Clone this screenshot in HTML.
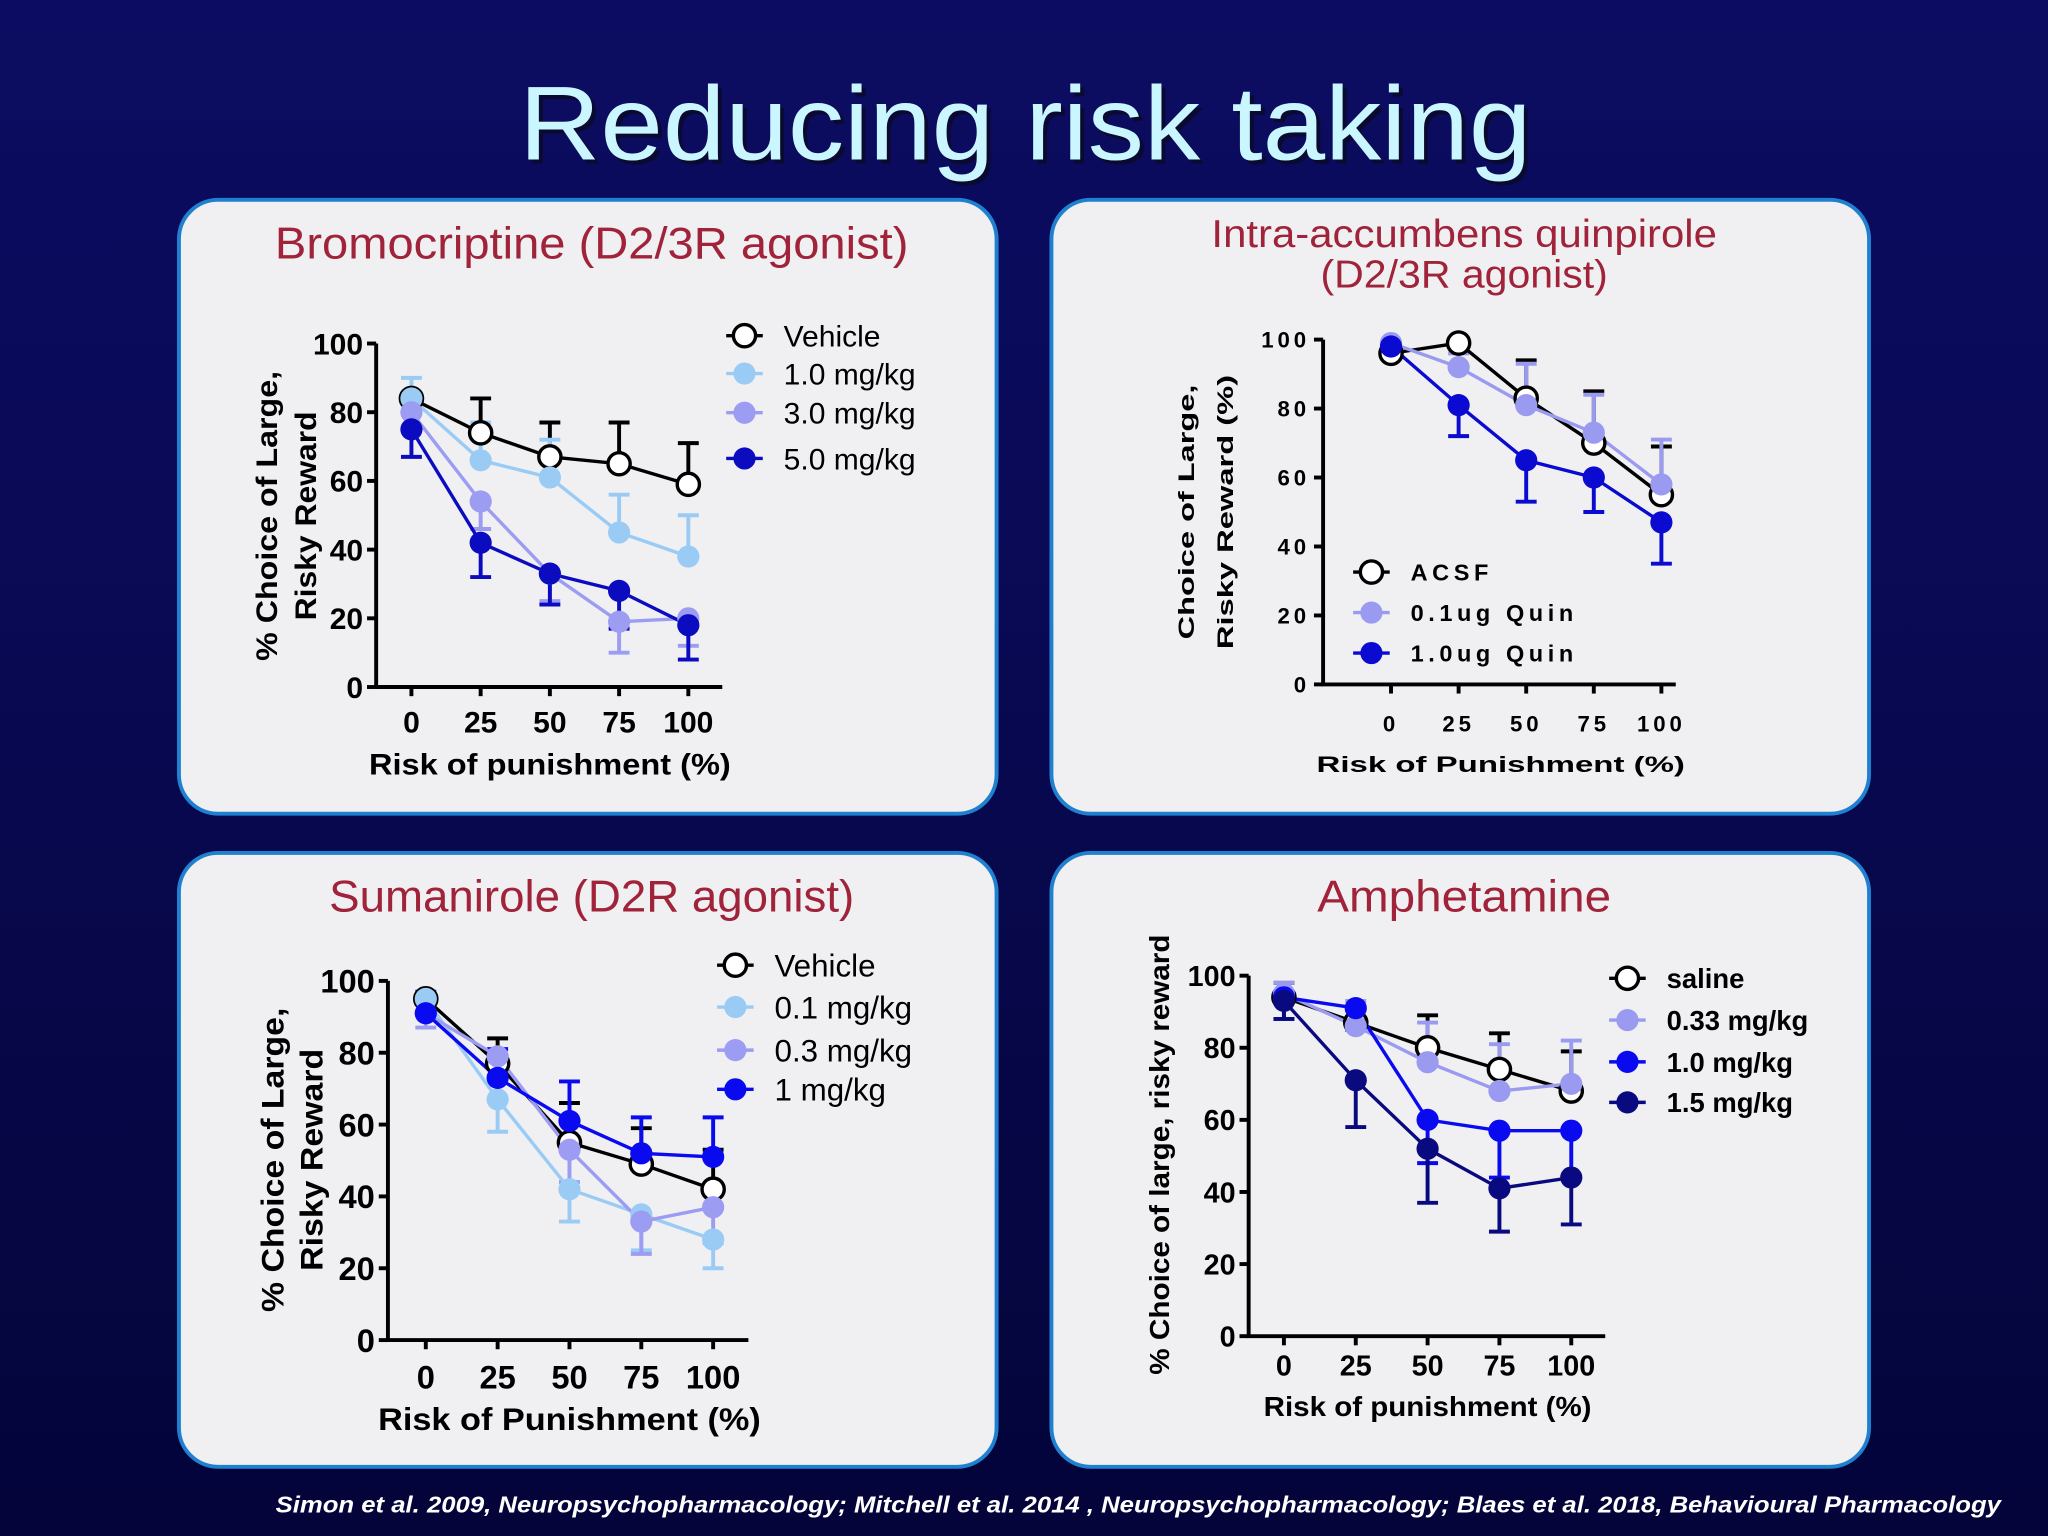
<!DOCTYPE html>
<html><head><meta charset="utf-8"><style>
html,body{margin:0;padding:0;background:#06064a;}
svg{display:block}
text{font-family:"Liberation Sans",sans-serif;}
</style></head><body>
<svg id="s" width="2048" height="1536" viewBox="0 0 1568 1176" xmlns="http://www.w3.org/2000/svg">
<defs>
<linearGradient id="bg" x1="0" y1="0" x2="0" y2="1">
<stop offset="0" stop-color="#0c0c62"/><stop offset="0.3" stop-color="#0a0a58"/><stop offset="1" stop-color="#04043a"/>
</linearGradient>
</defs>
<rect x="0" y="0" width="1568" height="1176" fill="url(#bg)"/>
<text x="785" y="122" text-anchor="middle" font-size="80" fill="#0a0a30" transform="translate(3,3)" textLength="775" lengthAdjust="spacingAndGlyphs">Reducing risk taking</text>
<text x="785" y="122" text-anchor="middle" font-size="80" fill="#c9f6ff" textLength="775" lengthAdjust="spacingAndGlyphs">Reducing risk taking</text>
<text x="1532" y="1158" text-anchor="end" font-size="17.5" font-weight="bold" font-style="italic" fill="#ffffff" textLength="1321" lengthAdjust="spacingAndGlyphs">Simon et al. 2009, Neuropsychopharmacology; Mitchell  et al. 2014 , Neuropsychopharmacology; Blaes et al. 2018, Behavioural Pharmacology</text>
<g id="charts"></g>
</svg>
<script>
// Shared x categories
const xCats = [0, 25, 50, 75, 100];
const yTicks = [0, 20, 40, 60, 80, 100];

// Panel 1: Bromocriptine
const p1Names = ["Vehicle", "1.0 mg/kg", "3.0 mg/kg", "5.0 mg/kg"];
const p1Vehicle = [84, 74, 67, 65, 59];
const p1Dose1 = [84, 66, 61, 45, 38];
const p1Dose3 = [80, 54, 33, 19, 20];
const p1Dose5 = [75, 42, 33, 28, 18];
const p1ErrVehicle = [0, 10, 10, 12, 12];
const p1ErrDose1 = [6, 11, 11, 11, 12];
const p1ErrDose3 = [0, 8, 8, 9, 8];
const p1ErrDose5 = [8, 10, 9, 11, 10];

// Panel 2: Quinpirole
const p2Names = ["ACSF", "0.1ug Quin", "1.0ug Quin"];
const p2Acsf = [96, 99, 83, 70, 55];
const p2Quin01 = [99, 92, 81, 73, 58];
const p2Quin10 = [98, 81, 65, 60, 47];
const p2ErrAcsf = [0, 0, 11, 15, 14];
const p2ErrQuin01 = [0, 4, 12, 11, 13];
const p2ErrQuin10 = [0, 9, 12, 10, 12];

// Panel 3: Sumanirole
const p3Names = ["Vehicle", "0.1 mg/kg", "0.3 mg/kg", "1 mg/kg"];
const p3Vehicle = [95, 77, 55, 49, 42];
const p3Dose01 = [95, 67, 42, 35, 28];
const p3Dose03 = [91, 79, 53, 33, 37];
const p3Dose1 = [91, 73, 61, 52, 51];
const p3ErrVehicle = [0, 7, 11, 10, 11];
const p3ErrDose01 = [0, 9, 9, 10, 8];
const p3ErrDose03 = [4, 0, 9, 9, 10];
const p3ErrDose1 = [6, 8, 11, 10, 11];

// Panel 4: Amphetamine
const p4Names = ["saline", "0.33 mg/kg", "1.0 mg/kg", "1.5 mg/kg"];
const p4Saline = [94, 87, 80, 74, 68];
const p4Dose033 = [95, 86, 76, 68, 70];
const p4Dose10 = [94, 91, 60, 57, 57];
const p4Dose15 = [93, 71, 52, 41, 44];
const p4ErrSaline = [4, 0, 9, 10, 11];
const p4ErrDose033 = [3, 7, 11, 13, 12];
const p4ErrDose10 = [6, 6, 12, 13, 13];
const p4ErrDose15 = [5, 13, 15, 12, 13];

const NS = "http://www.w3.org/2000/svg";
const root = document.getElementById("charts");
function mk(tag, attrs, parent, txt) {
  const e = document.createElementNS(NS, tag);
  for (const k in attrs) e.setAttribute(k, attrs[k]);
  if (txt !== undefined) e.textContent = txt;
  (parent || root).appendChild(e);
  return e;
}

function panel(id, x, y, w, h, titleLines, titleY, titleLens) {
  const g = mk("g", {});
  
  
  const r = mk("rect", { x: x, y: y, width: w, height: h, rx: 30, fill: "#f0f0f3", stroke: "#2080d0", "stroke-width": 3 }, g);
  
  
  titleLines.forEach((t, i) => {
    const te = mk("text", { x: x + w / 2 + 3, y: titleY + i * 31, "text-anchor": "middle", "font-size": titleLines.length > 1 ? 30 : 34, fill: "#a0233a", textLength: titleLens[i], lengthAdjust: "spacingAndGlyphs" }, g, t);
    
    
  });
  return g;
}

function chart(g, cfg, series) {
  const X = v => cfg.x0 + (v - xCats[0]) / (xCats[xCats.length - 1] - xCats[0]) * (cfg.x1 - cfg.x0);
  const Y = v => cfg.y0 - v / 100 * (cfg.y0 - cfg.y100);
  const ax = mk("path", { d: `M${cfg.ax},${cfg.y100} V${cfg.y0} H${cfg.axEnd}`, stroke: "#000", "stroke-width": 3, fill: "none" }, g);
  
  
  yTicks.forEach(t => {
    const tk = mk("line", { x1: cfg.ax - 7, x2: cfg.ax, y1: Y(t), y2: Y(t), stroke: "#000", "stroke-width": 3 }, g);
    
    
    const tl = mk("text", { x: cfg.ax - 10, y: Y(t) + cfg.fs * 0.36, "text-anchor": "end", "font-size": cfg.fs, "font-weight": "bold", "letter-spacing": cfg.ls }, g, String(t));
    
    
  });
  xCats.forEach(c => {
    const tk = mk("line", { x1: X(c), x2: X(c), y1: cfg.y0, y2: cfg.y0 + 7, stroke: "#000", "stroke-width": 3 }, g);
    
    
    const tl = mk("text", { x: X(c), y: cfg.xly, "text-anchor": "middle", "font-size": cfg.fs, "font-weight": "bold", "letter-spacing": cfg.ls }, g, String(c));
    
    
  });
  const xt = mk("text", { x: cfg.xtx, y: cfg.xty, "text-anchor": "middle", "font-size": cfg.tfs, "font-weight": "bold", textLength: cfg.xtl, lengthAdjust: "spacingAndGlyphs" }, g, cfg.xTitle);
  
  
  cfg.yTitle.forEach((t, i) => {
    const yt = mk("text", { x: 0, y: 0, transform: `translate(${cfg.ytx[i]},${cfg.yty}) rotate(-90)`, "text-anchor": "middle", "font-size": cfg.tfs, "font-weight": "bold", textLength: cfg.ytl[i], lengthAdjust: "spacingAndGlyphs" }, g, t);
    
    
  });
  series.forEach(s => {
    s.vals.forEach((v, i) => {
      if (!s.err[i]) return;
      const yy = Y(v + s.dir * s.err[i]);
      const eb = mk("path", { d: `M${X(xCats[i])},${Y(v)} V${yy} M${X(xCats[i]) - 8},${yy} H${X(xCats[i]) + 8}`, stroke: s.stroke, "stroke-width": 3, fill: "none" }, g);
      
      
    });
  });
  series.forEach(s => {
    const d = s.vals.map((v, i) => (i ? "L" : "M") + X(xCats[i]) + "," + Y(v)).join(" ");
    const ln = mk("path", { d: d, stroke: s.stroke, "stroke-width": 2.6, fill: "none" }, g);
    
    
  });
  series.forEach(s => {
    s.vals.forEach((v, i) => {
      const c = mk("circle", { cx: X(xCats[i]), cy: Y(v), r: 8.5, fill: s.fill, stroke: s.stroke, "stroke-width": s.fill === "#fff" ? 2.6 : 0 }, g);
      
      
    });
  });
  series.forEach((s, i) => {
    const ly = cfg.legY[i];
    const ll = mk("line", { x1: cfg.legX - 14, x2: cfg.legX + 14, y1: ly, y2: ly, stroke: s.stroke, "stroke-width": 2.6 }, g);
    
    
    const lc = mk("circle", { cx: cfg.legX, cy: ly, r: 8.5, fill: s.fill, stroke: s.stroke, "stroke-width": s.fill === "#fff" ? 2.6 : 0 }, g);
    
    
    const lt = mk("text", { x: cfg.legX + 30, y: ly + cfg.lfs * 0.36, "font-size": cfg.lfs, "font-weight": cfg.lfw, "letter-spacing": cfg.lls }, g, s.name);
    
    
  });
}

// Panel 1
let g1 = panel("panel-bromocriptine", 137, 153, 626, 470, ["Bromocriptine (D2/3R agonist)"], 198, [485]);
chart(g1, { ax: 288, axEnd: 553, x0: 315, x1: 527, y0: 526, y100: 263, fs: 23, ls: 0, xly: 561, xtx: 421, xty: 593, tfs: 23, xtl: 277,
  xTitle: "Risk of punishment (%)", yTitle: ["% Choice of Large,", "Risky Reward"], ytx: [212, 242], yty: 395, ytl: [222, 160],
  legX: 570, legY: [257, 286, 316, 351], lfs: 23, lfw: "normal", lls: 0 }, [
  { name: p1Names[0], vals: p1Vehicle, err: p1ErrVehicle, dir: 1, fill: "#fff", stroke: "#000" },
  { name: p1Names[1], vals: p1Dose1, err: p1ErrDose1, dir: 1, fill: "#9acbf4", stroke: "#9acbf4" },
  { name: p1Names[2], vals: p1Dose3, err: p1ErrDose3, dir: -1, fill: "#9c9cf2", stroke: "#9c9cf2" },
  { name: p1Names[3], vals: p1Dose5, err: p1ErrDose5, dir: -1, fill: "#0b0bbf", stroke: "#0b0bbf" }
]);

// Panel 2
let g2 = panel("panel-quinpirole", 805, 153, 626, 470, ["Intra-accumbens quinpirole", "(D2/3R agonist)"], 189, [387, 220]);
chart(g2, { ax: 1013, axEnd: 1283, x0: 1065, x1: 1272, y0: 524, y100: 260, fs: 17, ls: 3, xly: 560, xtx: 1149, xty: 591, tfs: 17, xtl: 282,
  xTitle: "Risk of Punishment (%)", yTitle: ["Choice of Large,", "Risky Reward (%)"], ytx: [914, 944], yty: 392, ytl: [195, 210],
  legX: 1050, legY: [438, 469, 500], lfs: 18, lfw: "bold", lls: 3.5 }, [
  { name: p2Names[0], vals: p2Acsf, err: p2ErrAcsf, dir: 1, fill: "#fff", stroke: "#000" },
  { name: p2Names[1], vals: p2Quin01, err: p2ErrQuin01, dir: 1, fill: "#9a9af0", stroke: "#9a9af0" },
  { name: p2Names[2], vals: p2Quin10, err: p2ErrQuin10, dir: -1, fill: "#0a0ad0", stroke: "#0a0ad0" }
]);

// Panel 3
let g3 = panel("panel-sumanirole", 137, 653, 626, 470, ["Sumanirole (D2R agonist)"], 698, [402]);
chart(g3, { ax: 297, axEnd: 573, x0: 326, x1: 546, y0: 1026, y100: 751, fs: 25, ls: 0, xly: 1063, xtx: 436, xty: 1095, tfs: 24, xtl: 293,
  xTitle: "Risk of Punishment (%)", yTitle: ["% Choice of Large,", "Risky Reward"], ytx: [217, 247], yty: 888, ytl: [233, 170],
  legX: 563, legY: [739, 771, 804, 834], lfs: 24, lfw: "normal", lls: 0 }, [
  { name: p3Names[0], vals: p3Vehicle, err: p3ErrVehicle, dir: 1, fill: "#fff", stroke: "#000" },
  { name: p3Names[1], vals: p3Dose01, err: p3ErrDose01, dir: -1, fill: "#9acbf4", stroke: "#9acbf4" },
  { name: p3Names[2], vals: p3Dose03, err: p3ErrDose03, dir: -1, fill: "#9c9cf2", stroke: "#9c9cf2" },
  { name: p3Names[3], vals: p3Dose1, err: p3ErrDose1, dir: 1, fill: "#0a0af0", stroke: "#0a0af0" }
]);

// Panel 4
let g4 = panel("panel-amphetamine", 805, 653, 626, 470, ["Amphetamine"], 698, [225]);
chart(g4, { ax: 956, axEnd: 1229, x0: 983, x1: 1203, y0: 1023, y100: 747, fs: 22, ls: 0, xly: 1053, xtx: 1093, xty: 1084, tfs: 21, xtl: 251,
  xTitle: "Risk of punishment (%)", yTitle: ["% Choice of large, risky reward"], ytx: [895], yty: 884, ytl: [337],
  legX: 1246, legY: [749, 781, 813, 844], lfs: 21, lfw: "bold", lls: 0 }, [
  { name: p4Names[0], vals: p4Saline, err: p4ErrSaline, dir: 1, fill: "#fff", stroke: "#000" },
  { name: p4Names[1], vals: p4Dose033, err: p4ErrDose033, dir: 1, fill: "#9a9af0", stroke: "#9a9af0" },
  { name: p4Names[2], vals: p4Dose10, err: p4ErrDose10, dir: -1, fill: "#0a0af0", stroke: "#0a0af0" },
  { name: p4Names[3], vals: p4Dose15, err: p4ErrDose15, dir: -1, fill: "#0a0a80", stroke: "#0a0a80" }
]);
</script>
</body></html>
